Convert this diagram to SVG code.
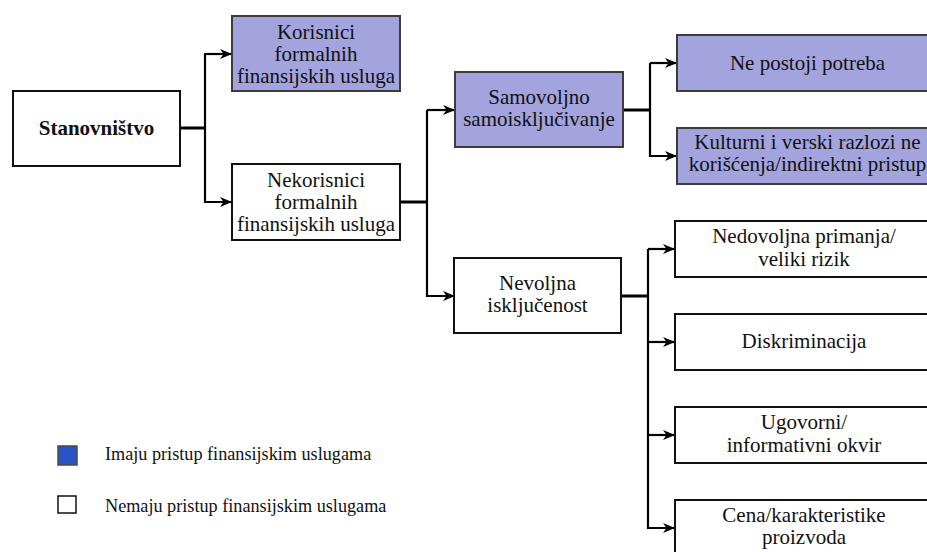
<svg xmlns="http://www.w3.org/2000/svg" width="927" height="552" viewBox="0 0 927 552">
<defs>
<style>
text{font-family:'Liberation Serif','Times New Roman',Times,'DejaVu Serif',serif}
.t{font-size:21px;fill:#111;text-anchor:middle}
.b{font-weight:bold}
.lg{font-size:18.2px;fill:#111}
.w{fill:#fff;stroke:#111;stroke-width:2}
.p{fill:#a3a3de;stroke:#3c3c3c;stroke-width:2}
.c{fill:none;stroke:#000;stroke-width:2.2}
.h{fill:none;stroke:#000;stroke-width:3}
</style>
<marker id="ar" viewBox="0 0 12 10" refX="12" refY="5" markerWidth="12" markerHeight="10" markerUnits="userSpaceOnUse" orient="auto">
<path d="M0,0 L12,5 L0,10 L3.5,5 z" fill="#000"/>
</marker>
</defs>
<rect width="927" height="552" fill="#fff"/>
<g id="connectors">
<path class="h" d="M180,128 H205"/>
<path class="c" d="M232,54 H205 V202 H232" marker-end="url(#ar)"/>
<path class="c" d="M205,54 H232" marker-end="url(#ar)"/>
<path class="h" d="M400,202 H427"/>
<path class="c" d="M427,110 V296 H455" marker-end="url(#ar)"/>
<path class="c" d="M427,110 H455" marker-end="url(#ar)"/>
<path class="h" d="M623,110 H650"/>
<path class="c" d="M650,63 V156 H677" marker-end="url(#ar)"/>
<path class="c" d="M650,63 H677" marker-end="url(#ar)"/>
<path class="h" d="M621,296 H648"/>
<path class="c" d="M648,249 V528 H675" marker-end="url(#ar)"/>
<path class="c" d="M648,249 H675" marker-end="url(#ar)"/>
<path class="c" d="M648,342 H675" marker-end="url(#ar)"/>
<path class="c" d="M648,435 H675" marker-end="url(#ar)"/>
</g>
<g id="stanovnistvo">
<rect class="w" x="13" y="91" width="167" height="75"/>
<text class="t b" x="96.5" y="135">Stanovništvo</text>
</g>
<g id="korisnici">
<rect class="p" x="232" y="16" width="168" height="75"/>
<text class="t" x="316" y="39">Korisnici</text>
<text class="t" x="316" y="61">formalnih</text>
<text class="t" x="316" y="83">finansijskih usluga</text>
</g>
<g id="nekorisnici">
<rect class="w" x="232" y="164" width="168" height="76"/>
<text class="t" x="316" y="187">Nekorisnici</text>
<text class="t" x="316" y="209">formalnih</text>
<text class="t" x="316" y="231">finansijskih usluga</text>
</g>
<g id="samovoljno">
<rect class="p" x="455" y="72" width="168" height="75"/>
<text class="t" x="539" y="104">Samovoljno</text>
<text class="t" x="539" y="126">samoisključivanje</text>
</g>
<g id="nevoljna">
<rect class="w" x="454" y="258" width="167" height="75"/>
<text class="t" x="537.5" y="290">Nevoljna</text>
<text class="t" x="537.5" y="312">isključenost</text>
</g>
<g id="ne-postoji">
<rect class="p" x="677" y="35" width="261" height="56"/>
<text class="t" x="807.5" y="70">Ne postoji potreba</text>
</g>
<g id="kulturni">
<rect class="p" x="677" y="128" width="261" height="56"/>
<text class="t" x="807.5" y="149">Kulturni i verski razlozi ne</text>
<text class="t" x="807.5" y="171">korišćenja/indirektni pristup</text>
</g>
<g id="nedovoljna">
<rect class="w" x="675" y="221" width="258" height="56"/>
<text class="t" x="804" y="243">Nedovoljna primanja/</text>
<text class="t" x="804" y="266">veliki rizik</text>
</g>
<g id="diskriminacija">
<rect class="w" x="675" y="314" width="258" height="56"/>
<text class="t" x="804" y="348">Diskriminacija</text>
</g>
<g id="ugovorni">
<rect class="w" x="675" y="407" width="258" height="56"/>
<text class="t" x="804" y="429">Ugovorni/</text>
<text class="t" x="804" y="452">informativni okvir</text>
</g>
<g id="cena">
<rect class="w" x="675" y="500" width="258" height="56"/>
<text class="t" x="804" y="522">Cena/karakteristike</text>
<text class="t" x="804" y="544">proizvoda</text>
</g>
<g id="legend">
<rect x="58" y="446" width="19" height="19" fill="#2a55c8" stroke="#4a4a4a" stroke-width="1.5"/>
<text class="lg" x="105" y="460">Imaju pristup finansijskim uslugama</text>
<rect x="58" y="496" width="18" height="17" fill="#fff" stroke="#111" stroke-width="1.5"/>
<text class="lg" x="105" y="512">Nemaju pristup finansijskim uslugama</text>
</g>
</svg>
